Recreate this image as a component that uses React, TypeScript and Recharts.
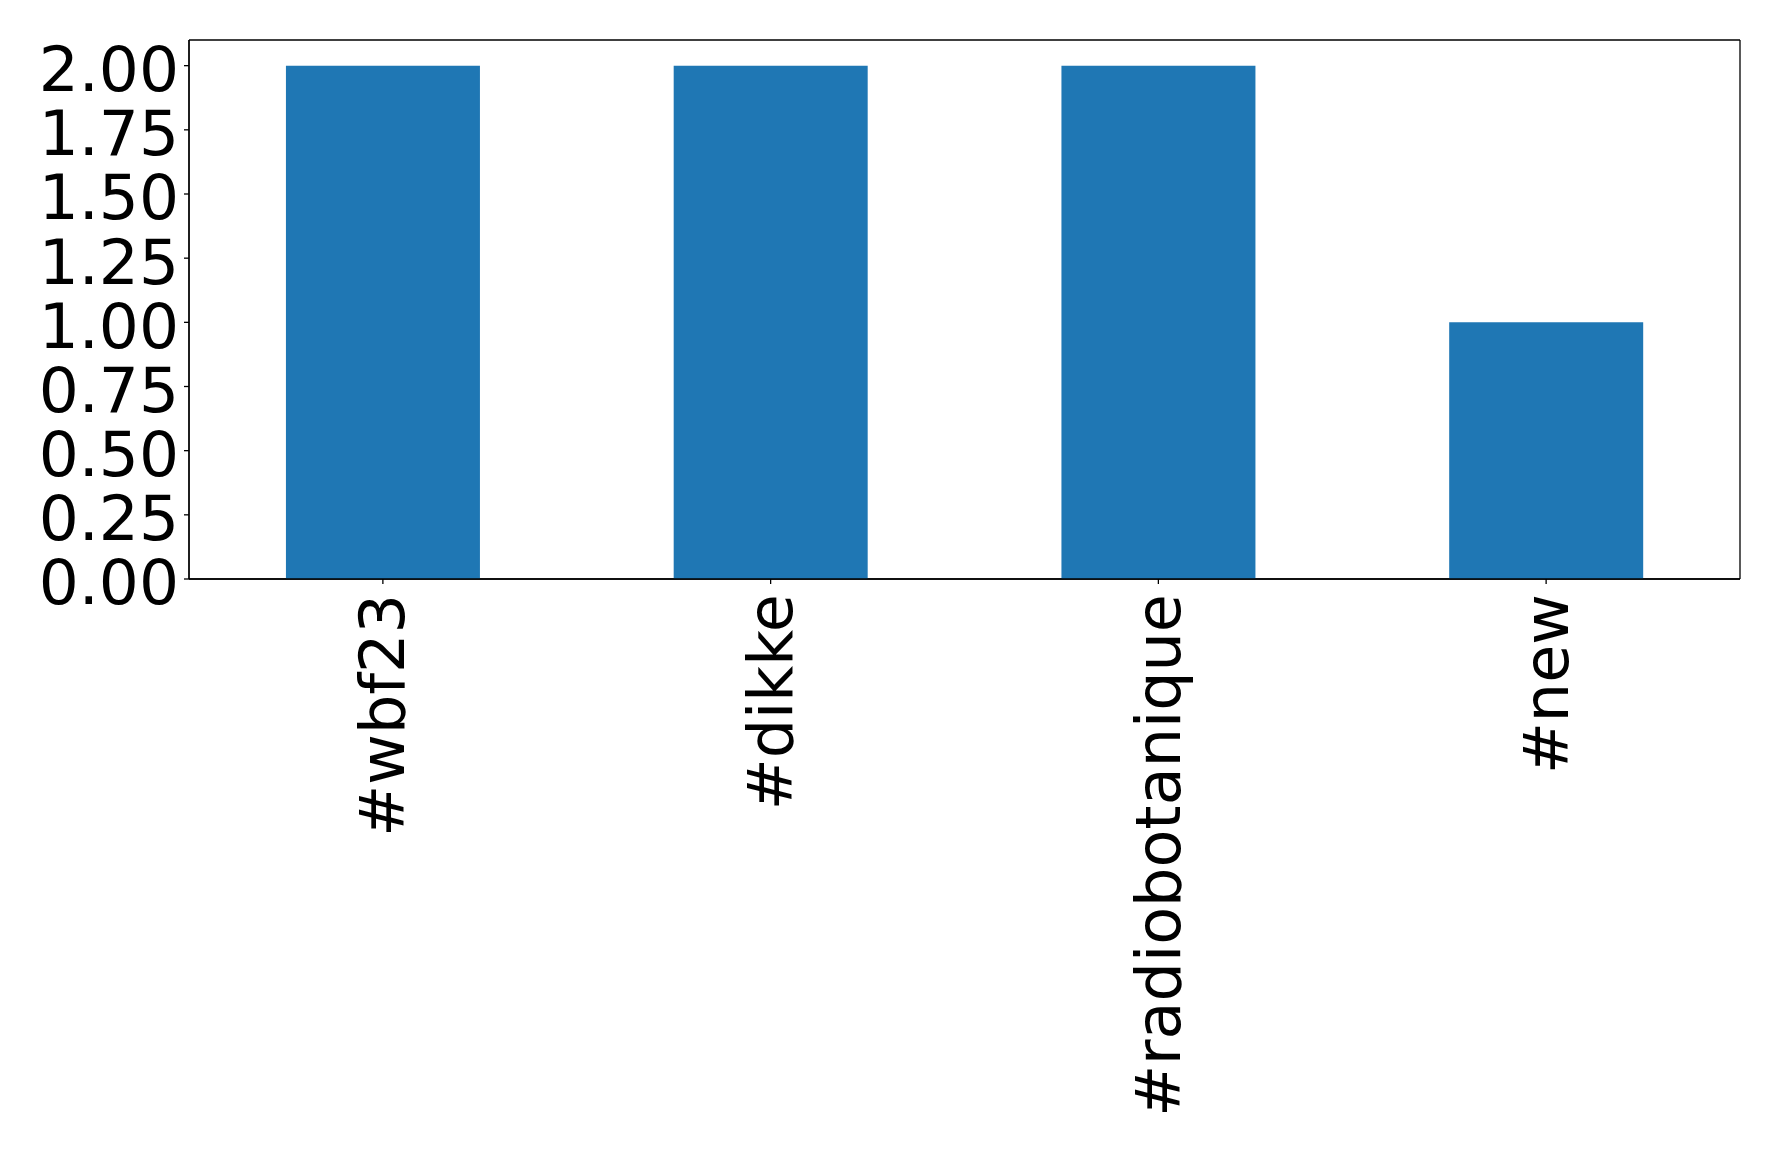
import { BarChart, Bar, XAxis, YAxis, CartesianGrid } from 'recharts';

const tags = ['#wbf23', '#dikke', '#radiobotanique', '#new'];
const counts = [2, 2, 2, 1];
const yTicks = [0, 0.25, 0.5, 0.75, 1, 1.25, 1.5, 1.75, 2];

const data = tags.map((tag, i) => ({ tag, count: counts[i] }));

const FONT = '"DejaVu Sans", sans-serif';

function RotatedTick({ x, y, payload }: any) {
  return (
    <text
      x={x}
      y={y}
      transform={`rotate(-90, ${x}, ${y})`}
      textAnchor="end"
      dominantBaseline="central"
      fontFamily={FONT}
      fontSize={62}
      fill="#000"
    >
      {payload.value}
    </text>
  );
}

export default function App() {
  return (
    <div style={{ position: 'absolute', left: 0, top: 0, background: '#fff' }}>
      <BarChart
        width={1778}
        height={1155}
        data={data}
        margin={{ top: 40, right: 38, bottom: 276, left: 0 }}
        barCategoryGap="25%"
      >
        {/* frame around the plot area */}
        <CartesianGrid
          stroke="#000"
          strokeWidth={1.3}
          fill="none"
          horizontalCoordinatesGenerator={({ offset }: any) => [offset.top, offset.top + offset.height]}
          verticalCoordinatesGenerator={({ offset }: any) => [offset.left, offset.left + offset.width]}
        />
        <XAxis
          dataKey="tag"
          height={300}
          interval={0}
          tickSize={5}
          tickMargin={10}
          axisLine={{ stroke: '#000', strokeWidth: 1.3 }}
          tickLine={{ stroke: '#000', strokeWidth: 1.3 }}
          tick={<RotatedTick />}
        />
        <YAxis
          width={189}
          domain={[0, 2.1]}
          ticks={yTicks}
          interval={0}
          tickSize={5}
          tickMargin={5}
          tickFormatter={(v: number) => v.toFixed(2)}
          axisLine={{ stroke: '#000', strokeWidth: 1.3 }}
          tickLine={{ stroke: '#000', strokeWidth: 1.3 }}
          tick={{ fontSize: 63, fontFamily: FONT, fill: '#000', dy: 3 }}
        />
        <Bar dataKey="count" fill="#1f77b4" isAnimationActive={false} />
      </BarChart>
    </div>
  );
}
